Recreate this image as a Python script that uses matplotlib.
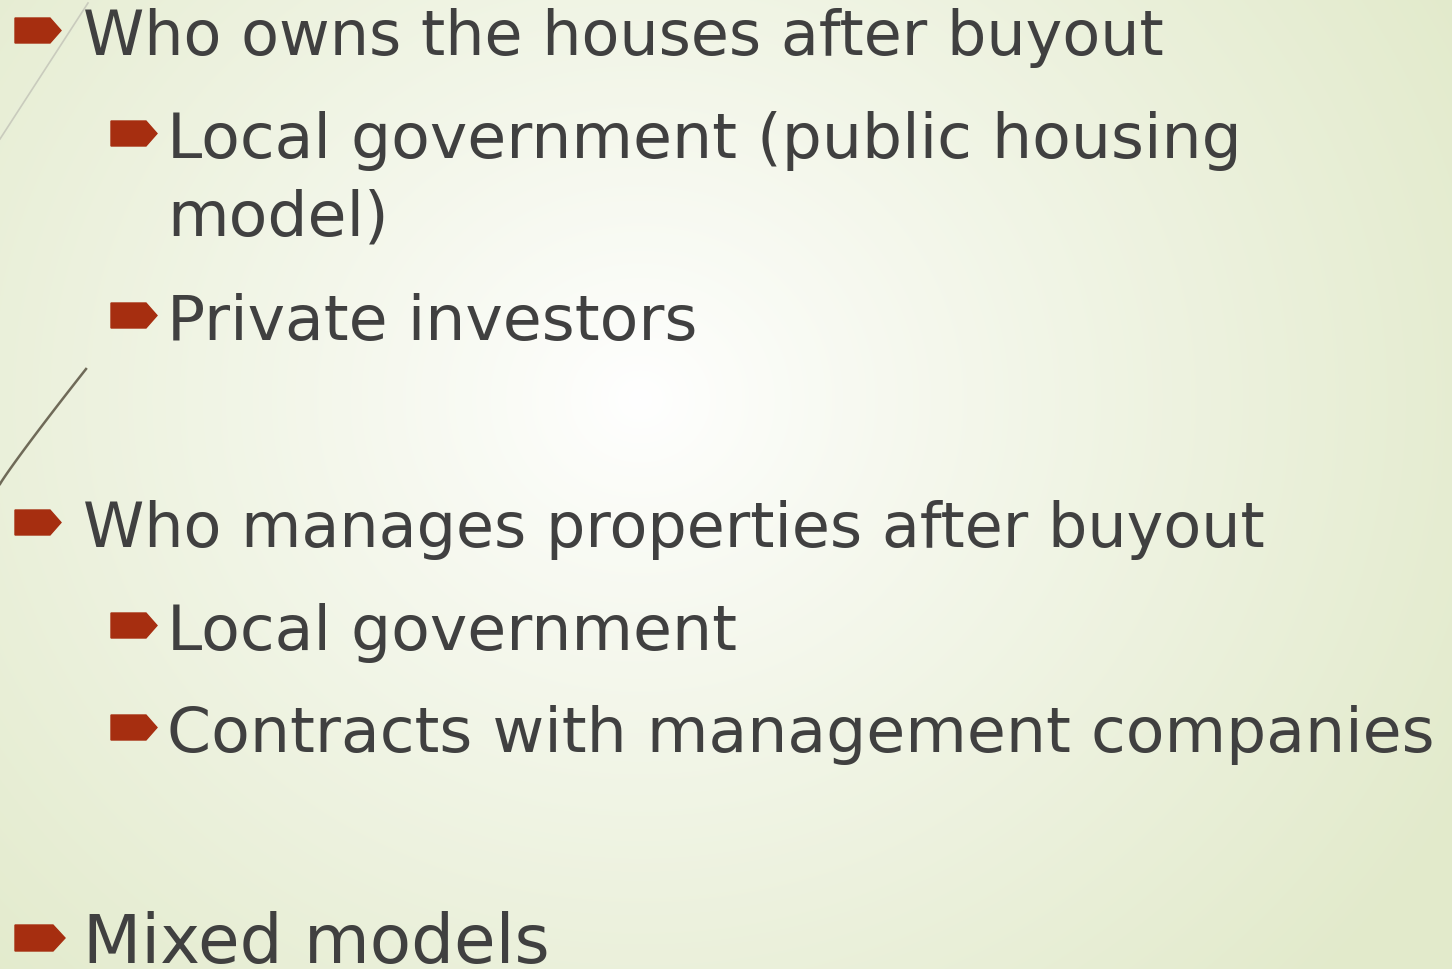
import numpy as np
import matplotlib
matplotlib.use("Agg")
import matplotlib.pyplot as plt
from matplotlib.patches import Polygon

# Slide content
items = [
    "Who owns the houses after buyout",
    "Local government (public housing",
    "model)",
    "Private investors",
    "Who manages properties after buyout",
    "Local government",
    "Contracts with management companies",
    "Mixed models",
]
levels = [1, 2, 0, 2, 1, 2, 2, 3]  # 0 = continuation line (no bullet)
baselines = [55, 158, 236, 340, 547, 650, 752, 963]

W, H = 1452, 970
fig = plt.figure(figsize=(W / 100, H / 100), dpi=100)
ax = fig.add_axes([0, 0, 1, 1])
ax.set_xlim(0, W)
ax.set_ylim(H, 0)
ax.axis("off")

# radial gradient background
yy, xx = np.mgrid[0:H, 0:W]
cx, cy = 640, 400
r = np.sqrt(((xx - cx) / 1.05) ** 2 + ((yy - cy) / 0.95) ** 2)
t = np.clip(r / 900.0, 0, 1) ** 0.9
edge = np.array([226, 234, 203]) / 255.0
center = np.array([1.0, 1.0, 1.0])
img = center[None, None, :] * (1 - t[..., None]) + edge[None, None, :] * t[..., None]
ax.imshow(img, extent=[0, W, H, 0], zorder=0, aspect="auto")

# decorative lines
ax.plot([0, 88], [140, 4], color="#c9cbbd", lw=1.2, zorder=1)
sx = np.linspace(0, 86, 50)
sy = 485 - 115 * (sx / 86) ** 0.95
ax.plot(sx, sy, color="#6f6a58", lw=1.8, zorder=1)

txt_color = "#404040"
bullet_color = "#a62e10"
font = "DejaVu Sans"

x_text = {1: 83, 2: 167, 0: 167, 3: 83}
fit_targets = {1: ("Who manages properties after buyout", 1182),
               2: ("Contracts with management companies", 1266),
               3: ("Mixed models", 465)}

renderer = fig.canvas.get_renderer()
sizes = {}
for lvl, (s, target) in fit_targets.items():
    tt = ax.text(0, 0, s, fontsize=40, family=font)
    w = tt.get_window_extent(renderer).width
    tt.remove()
    sizes[lvl] = 40 * target / w
sizes[0] = sizes[2]

def bullet(x0, y0, w, h, tip):
    pts = [(x0, y0), (x0 + w - tip, y0), (x0 + w, y0 + h / 2),
           (x0 + w - tip, y0 + h), (x0, y0 + h)]
    ax.add_patch(Polygon(pts, closed=True, color=bullet_color, zorder=3))

for s, lvl, b in zip(items, levels, baselines):
    ax.text(x_text[lvl], b, s, fontsize=sizes[lvl], family=font,
            color=txt_color, va="baseline", ha="left", zorder=4)
    if lvl == 1:
        bullet(15, b - 36, 46, 25, 11)
    elif lvl == 2:
        bullet(111, b - 36, 46, 25, 11)
    elif lvl == 3:
        bullet(15, b - 37, 50, 26, 12)

fig.savefig("out.png", dpi=100)
